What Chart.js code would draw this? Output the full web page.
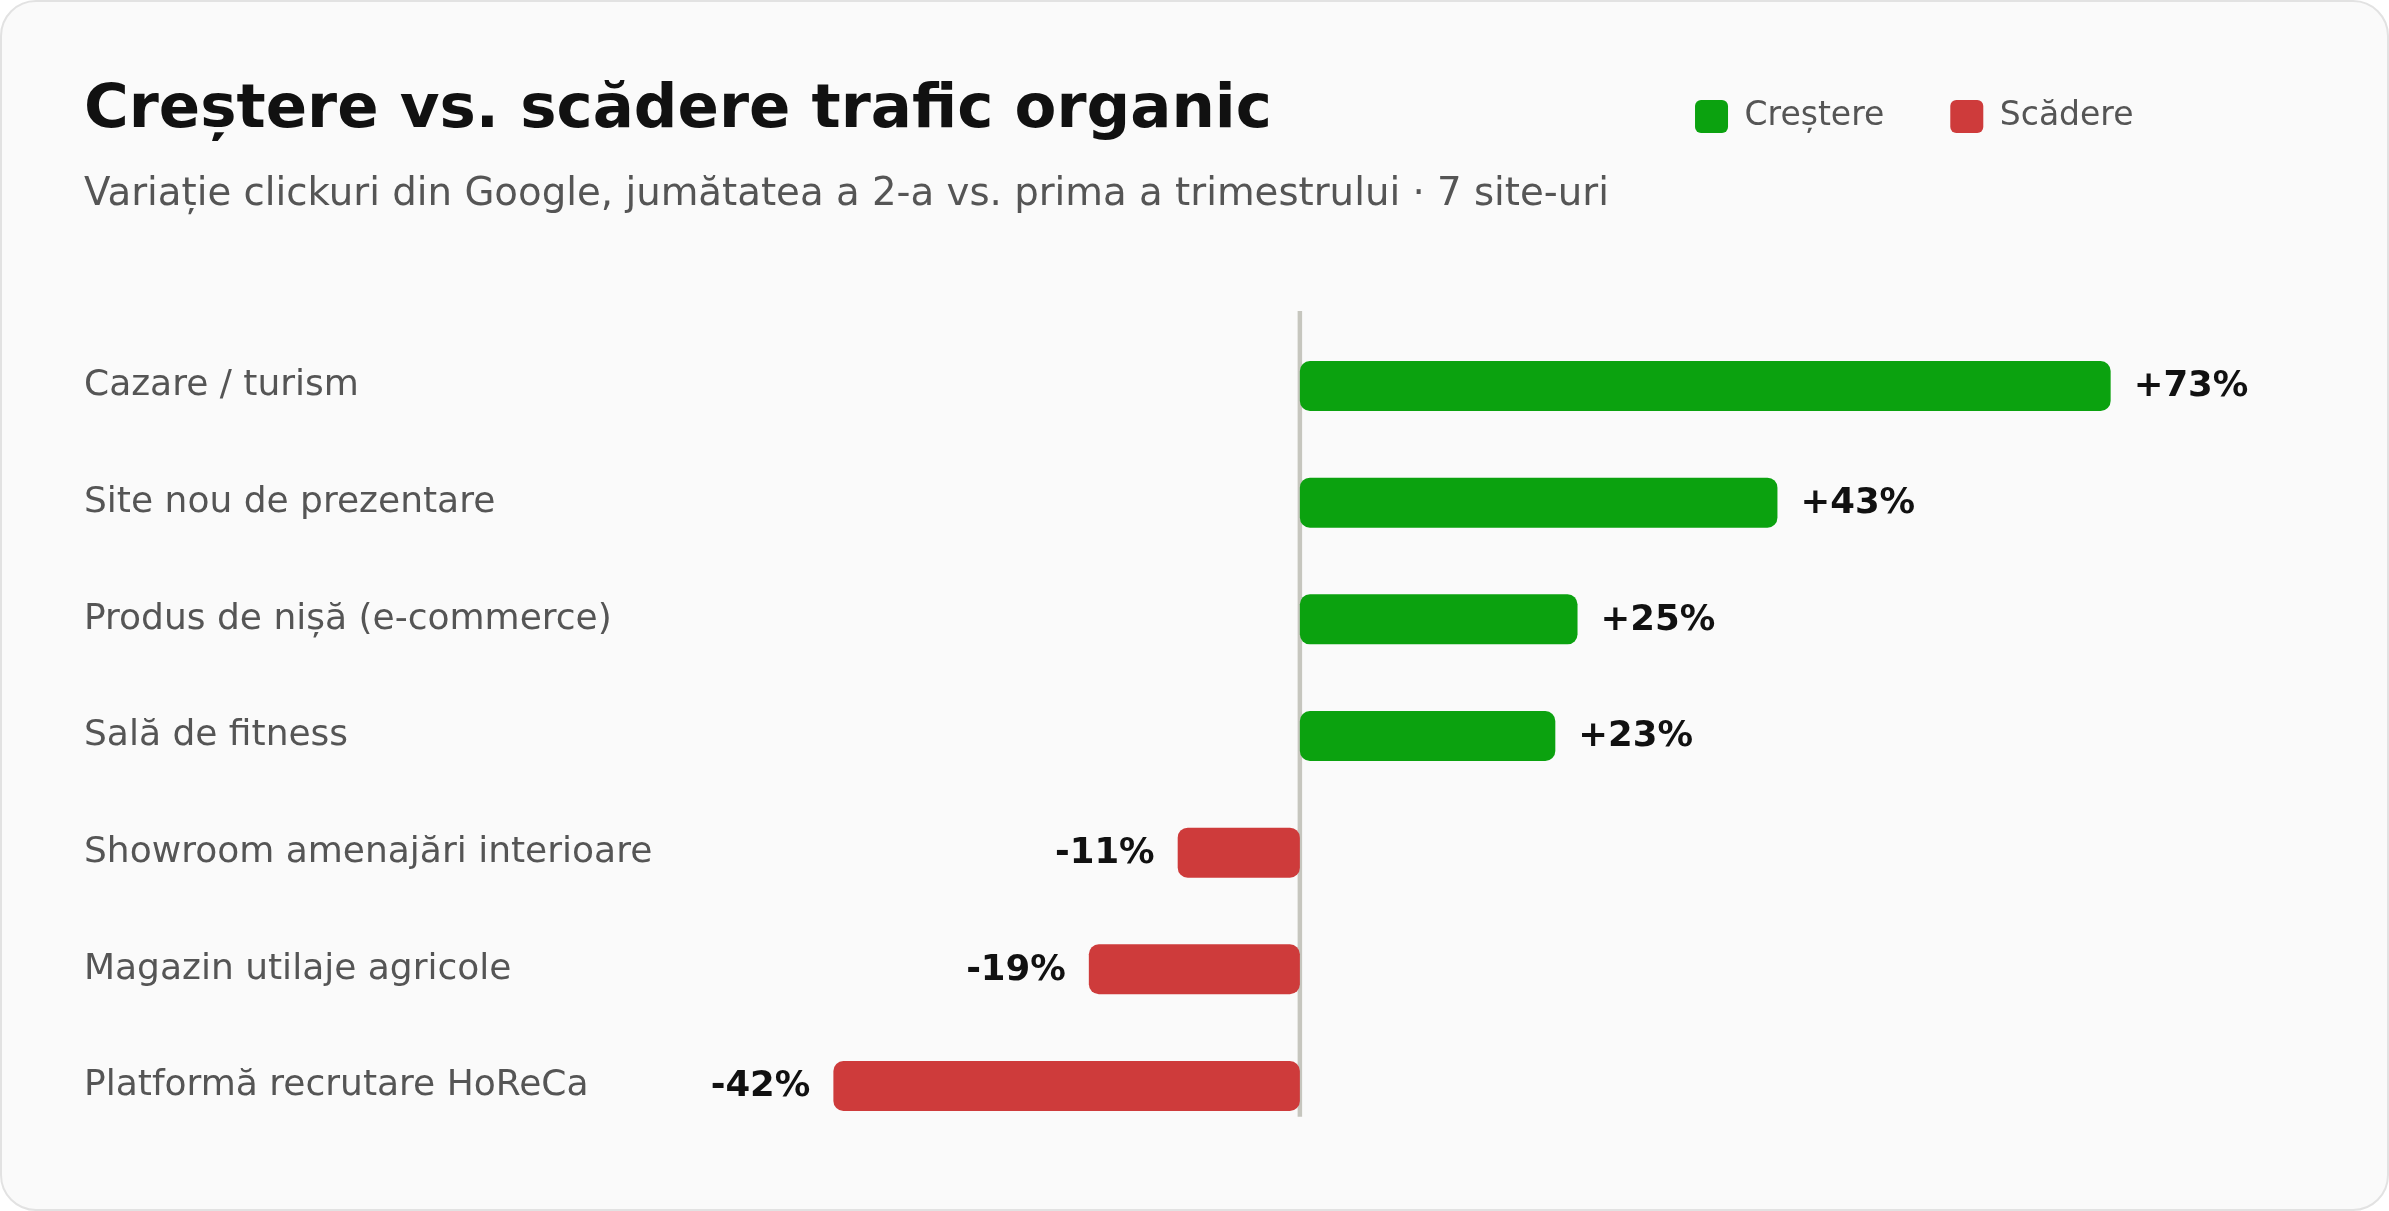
<!DOCTYPE html>
<html><head><meta charset="utf-8">
<script src="https://cdn.jsdelivr.net/npm/chart.js@4.4.1/dist/chart.umd.min.js"></script>
<style>
html,body{margin:0;padding:0;background:#ffffff;width:2389px;height:1211px;overflow:hidden;}
#card{position:absolute;left:0;top:0;width:2389px;height:1211px;box-sizing:border-box;border:2px solid #e2e2e2;border-radius:36px;background:#fafafa;}
#wrap{position:absolute;left:0;top:0;width:2389px;height:1211px;}
</style></head><body>
<div id="card"></div>
<div id="wrap"><canvas id="c"></canvas></div>
<script>
const categories = [
  'Cazare / turism',
  'Site nou de prezentare',
  'Produs de nișă (e-commerce)',
  'Sală de fitness',
  'Showroom amenajări interioare',
  'Magazin utilaje agricole',
  'Platformă recrutare HoReCa'
];
const values = [73, 43, 25, 23, -11, -19, -42];
const seriesNames = ['Creștere', 'Scădere'];
const titleText = 'Creștere vs. scădere trafic organic';
const subtitleText = 'Variație clickuri din Google, jumătatea a 2-a vs. prima a trimestrului · 7 site-uri';

const growthValues = values.map(v => v > 0 ? v : null);
const declineValues = values.map(v => v < 0 ? v : null);

const GREEN = '#0ba20f';
const RED = '#ce3b3b';
const FONT = "'DejaVu Sans', 'Noto Sans', sans-serif";
Chart.defaults.font.family = FONT;

const zeroLine = {
  id: 'zeroLine',
  beforeDatasetsDraw(chart) {
    const xs = chart.scales.x, ys = chart.scales.y;
    const x = xs.getPixelForValue(0);
    const step = ys.getPixelForTick(1) - ys.getPixelForTick(0);
    const top = ys.getPixelForTick(0) - 0.643 * step;
    const bottom = ys.getPixelForTick(categories.length - 1) + 0.264 * step;
    const ctx = chart.ctx;
    ctx.save();
    ctx.strokeStyle = '#c6c6be';
    ctx.lineWidth = 4.5;
    ctx.beginPath();
    ctx.moveTo(x, top);
    ctx.lineTo(x, bottom);
    ctx.stroke();
    ctx.restore();
  }
};

const valueLabels = {
  id: 'valueLabels',
  afterDatasetsDraw(chart) {
    const ctx = chart.ctx;
    ctx.save();
    ctx.font = 'bold 35.5px ' + FONT;
    ctx.fillStyle = '#111111';
    ctx.textBaseline = 'middle';
    chart.data.datasets.forEach((ds, di) => {
      const meta = chart.getDatasetMeta(di);
      meta.data.forEach((el, i) => {
        const v = ds.data[i];
        if (v === null || v === undefined) return;
        const txt = (v > 0 ? '+' : '') + v + '%';
        if (v > 0) {
          ctx.textAlign = 'left';
          ctx.fillText(txt, el.x + 23, el.y + 1);
        } else {
          ctx.textAlign = 'right';
          ctx.fillText(txt, el.x - 23, el.y + 1);
        }
      });
    });
    ctx.restore();
  }
};

const legendMover = {
  id: 'legendMover',
  afterLayout(chart) {
    const lg = chart.legend;
    if (!lg) return;
    const h = lg.height;
    lg.top = 34;
    lg.bottom = lg.top + h;
  }
};

new Chart(document.getElementById('c'), {
  type: 'bar',
  data: {
    labels: categories,
    datasets: [
      {
        label: seriesNames[0],
        data: growthValues,
        backgroundColor: GREEN,
        borderWidth: 0,
        borderRadius: 10,
        borderSkipped: false,
        grouped: false,
        barPercentage: 0.4286,
        categoryPercentage: 1
      },
      {
        label: seriesNames[1],
        data: declineValues,
        backgroundColor: RED,
        borderWidth: 0,
        borderRadius: 10,
        borderSkipped: false,
        grouped: false,
        barPercentage: 0.4286,
        categoryPercentage: 1
      }
    ]
  },
  options: {
    indexAxis: 'y',
    responsive: true,
    maintainAspectRatio: false,
    animation: false,
    layout: { padding: { left: 84, right: 189.5, top: 0, bottom: 66.7 } },
    scales: {
      x: {
        type: 'linear',
        min: -55,
        max: 81,
        display: false
      },
      y: {
        type: 'category',
        grid: { display: false },
        border: { display: false },
        ticks: {
          crossAlign: 'far',
          padding: 0,
          color: '#555555',
          font: { size: 36 }
        },
        afterFit(scale) { scale.width = 605; }
      }
    },
    plugins: {
      tooltip: { enabled: false },
      title: {
        display: true,
        text: titleText,
        align: 'start',
        color: '#111111',
        font: { size: 61, weight: 'bold' },
        padding: { top: 75, bottom: 0 }
      },
      subtitle: {
        display: true,
        text: subtitleText,
        align: 'start',
        color: '#555555',
        font: { size: 38.7 },
        padding: { top: 24, bottom: 0 }
      },
      legend: {
        display: true,
        position: 'top',
        align: 'end',
        labels: {
          boxWidth: 33,
          boxHeight: 33,
          useBorderRadius: true,
          borderRadius: 6,
          padding: 66,
          color: '#555555',
          font: { size: 33 }
        }
      }
    }
  },
  plugins: [zeroLine, valueLabels, legendMover]
});
</script>
</body></html>
